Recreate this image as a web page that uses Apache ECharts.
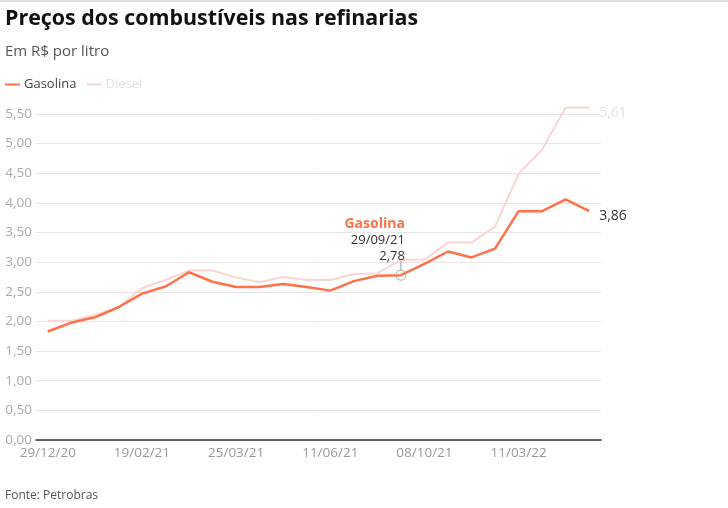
<!DOCTYPE html>
<html><head><meta charset="utf-8">
<script src="https://cdn.jsdelivr.net/npm/echarts@6/dist/echarts.min.js"></script>
<style>html,body{margin:0;padding:0;background:#fff}#c{width:728px;height:508px}</style>
</head><body><div id="c"></div>
<script>
const dates = ['29/12/20','19/01/21','27/01/21','09/02/21','19/02/21','02/03/21','09/03/21','20/03/21','25/03/21','01/04/21','16/04/21','01/05/21','11/06/21','06/07/21','12/08/21','29/09/21','08/10/21','26/10/21','15/12/21','12/01/22','11/03/22','10/05/22','18/06/22','20/07/22'];
const gasolina = [1.83,1.98,2.07,2.24,2.47,2.59,2.83,2.67,2.58,2.58,2.63,2.58,2.52,2.68,2.77,2.78,2.97,3.18,3.08,3.23,3.86,3.86,4.06,3.86];
const diesel = [2.01,2.01,2.11,2.24,2.56,2.70,2.86,2.86,2.74,2.66,2.75,2.70,2.70,2.80,2.81,3.04,3.04,3.33,3.33,3.60,4.49,4.90,5.61,5.61];
const highlightIndex = 15;

const FONT = '"Open Sans", sans-serif';
const GAS = '#ff7148';
const DIE = '#f8d6d1';
const fmt = v => v.toFixed(2).replace('.', ',');

const chart = echarts.init(document.getElementById('c'));
const gasData = gasolina.map((v, i) => i === highlightIndex ? {
  value: v,
  symbol: 'circle',
  symbolSize: 10,
  itemStyle: {color: 'rgba(255,255,255,0)', borderColor: '#aaa', borderWidth: 1},
  label: {
    show: true, position: 'top', align: 'right', offset: [4, 0],
    formatter: () => '{t|Gasolina}\n{d|' + dates[i] + '}\n{d|' + fmt(v) + '}',
    rich: {
      t: {color: GAS, fontWeight: 'bold', fontSize: 14, fontFamily: FONT, lineHeight: 17, align: 'right'},
      d: {color: '#333', fontSize: 13, fontFamily: FONT, lineHeight: 16, align: 'right'}
    }
  }
} : v);

chart.setOption({
  animation: false,
  textStyle: {fontFamily: FONT},
  title: [
    {text: 'Preços dos combustíveis nas refinarias', left: 0, top: 3,
     textStyle: {fontSize: 21.4, fontWeight: 'bold', color: '#111', fontFamily: FONT}},
    {text: 'Em R$ por litro', left: 0, top: 39,
     textStyle: {fontSize: 15, fontWeight: 'normal', color: '#555', fontFamily: FONT}},
    {text: 'Fonte: Petrobras', left: 0, top: 485,
     textStyle: {fontSize: 12, fontWeight: 'normal', color: '#555', fontFamily: FONT}}
  ],
  legend: {
    left: 0, top: 73, icon: 'rect', itemWidth: 15, itemHeight: 2, itemGap: 10,
    textStyle: {fontSize: 13, fontFamily: FONT, padding: [0, 0, 0, -1]},
    data: [{name: 'Gasolina', textStyle: {color: '#444'}}, {name: 'Diesel', textStyle: {color: '#e2e2e2'}}]
  },
  grid: {left: 36, right: 127, top: 114, bottom: 68},
  xAxis: {
    type: 'category', data: dates, boundaryGap: true,
    axisLine: {lineStyle: {color: '#333', width: 1.5}},
    axisTick: {show: false},
    axisLabel: {interval: 3, color: '#999', fontSize: 13.5, fontFamily: FONT, margin: 6}
  },
  yAxis: {
    type: 'value', min: 0, max: 5.5, interval: 0.5,
    axisLabel: {formatter: v => fmt(v), color: '#aaa', fontSize: 13.5, fontFamily: FONT, margin: 4},
    splitLine: {lineStyle: {color: '#e6e6e6'}},
    axisLine: {show: false}, axisTick: {show: false}
  },
  series: [
    {name: 'Diesel', type: 'line', data: diesel, symbol: 'none', color: DIE, clip: false,
     lineStyle: {width: 2, color: DIE}, z: 1,
     endLabel: {show: true, formatter: p => fmt(p.value), color: '#e2e2e2', fontSize: 14, fontFamily: FONT, distance: 10, offset: [0, 6]}},
    {name: 'Gasolina', type: 'line', data: gasData, symbol: 'none', color: GAS, clip: false,
     lineStyle: {width: 2.5, color: GAS}, z: 3,
     endLabel: {show: true, formatter: p => fmt(typeof p.value === 'object' ? p.value.value : p.value), color: '#333', fontSize: 14, fontFamily: FONT, distance: 10, offset: [0, 5]}}
  ]
});

const pt = chart.convertToPixel({seriesIndex: 1}, [highlightIndex, gasolina[highlightIndex]]);
chart.setOption({
  graphic: [
    {type: 'rect', shape: {x: 0, y: 0, width: 728, height: 2}, style: {fill: '#e0e0e0'}},
    {type: 'line', shape: {x1: pt[0], y1: pt[1] - 5, x2: pt[0], y2: pt[1] - 16}, style: {stroke: '#999', lineWidth: 1}}
  ]
});
</script></body></html>
